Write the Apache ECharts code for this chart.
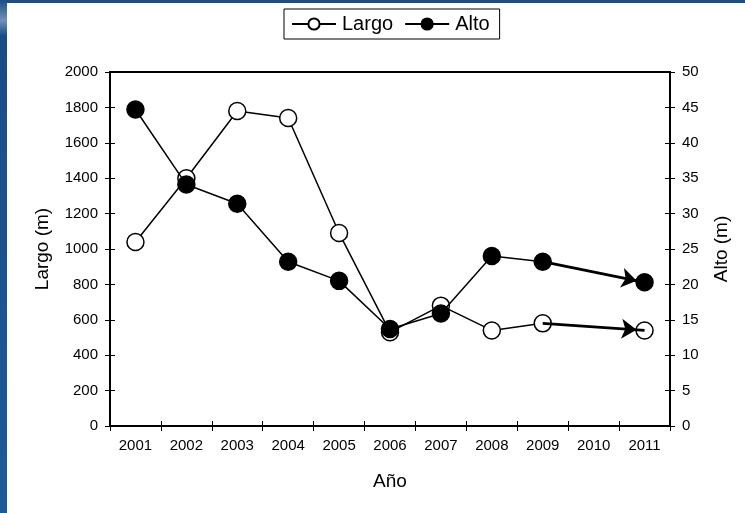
<!DOCTYPE html>
<html>
<head>
<meta charset="utf-8">
<script src="https://cdn.jsdelivr.net/npm/echarts@6/dist/echarts.min.js"></script>
<style>
html,body{margin:0;padding:0;background:#fff;}
#chart{width:745px;height:513px;}
</style>
</head>
<body>
<div id="chart"></div>
<script>
const years = ['2001','2002','2003','2004','2005','2006','2007','2008','2009','2010','2011'];
const largo = [1040, 1400, 1780, 1740, 1090, 530, 680, 540, 580, null, 540];
const alto  = [44.7, 34.1, 31.4, 23.2, 20.5, 13.7, 15.9, 24.0, 23.2, null, 20.3];
const largoTicks = {min: 0, max: 2000, interval: 200};
const altoTicks = {min: 0, max: 50, interval: 5};

const FONT = '"Liberation Sans", Arial, sans-serif';
const chart = echarts.init(document.getElementById('chart'), null, {renderer: 'canvas'});

function arrowLine(arr) {
  return {
    silent: true,
    symbol: ['none', 'arrow'],
    symbolSize: 15,
    symbolOffset: [0, [0, 8]],
    lineStyle: {color: '#000', width: 2.8, type: 'solid'},
    label: {show: false},
    emphasis: {disabled: true},
    animation: false,
    data: [[{coord: [years[8], arr[8]]}, {coord: [years[10], arr[10]]}]]
  };
}

const plainLabel = v => String(v);

const option = {
  animation: false,
  backgroundColor: '#fff',
  textStyle: {fontFamily: FONT, color: '#000'},
  graphic: [
    {type: 'rect', left: 0, top: 0, shape: {width: 745, height: 3}, style: {fill: '#1a4f8a'}, z: 100},
    {type: 'rect', left: 0, top: 0, shape: {width: 7, height: 513},
     style: {fill: new echarts.graphic.LinearGradient(0, 0, 0, 1, [
       {offset: 0, color: '#1a4c85'}, {offset: 0.04, color: '#6f92b8'}, {offset: 0.07, color: '#1a4c85'}, {offset: 1, color: '#1c5a9a'}])}, z: 100}
  ],
  legend: {
    data: ['Largo', 'Alto'],
    left: 284,
    top: 9,
    orient: 'horizontal',
    borderColor: '#000',
    borderWidth: 1,
    padding: [5, 10, 5, 7],
    itemWidth: 44,
    itemHeight: 14,
    itemGap: 11,
    textStyle: {fontFamily: FONT, fontSize: 20, color: '#000', padding: [0, 0, 0, 1]}
  },
  grid: {left: 110, right: 75, top: 72, bottom: 87, show: true, borderColor: '#000', borderWidth: 2, backgroundColor: 'transparent'},
  xAxis: [
    {
      type: 'category', data: years, boundaryGap: true,
      name: 'Año', nameLocation: 'middle', nameGap: 46,
      nameTextStyle: {fontFamily: FONT, fontSize: 19, color: '#000'},
      axisLine: {lineStyle: {color: '#000', width: 2}},
      axisTick: {show: true, length: 5, lineStyle: {color: '#000', width: 1}},
      axisLabel: {fontFamily: FONT, fontSize: 15, color: '#000', margin: 12, interval: 0},
      splitLine: {show: false}
    },
    {
      type: 'category', data: years, boundaryGap: true, position: 'bottom',
      axisLine: {show: false},
      axisTick: {show: true, inside: true, length: 5, lineStyle: {color: '#000', width: 1}},
      axisLabel: {show: false}, splitLine: {show: false}
    }
  ],
  yAxis: [
    {
      type: 'value', position: 'left', min: largoTicks.min, max: largoTicks.max, interval: largoTicks.interval,
      name: 'Largo (m)', nameLocation: 'middle', nameGap: 58, nameRotate: 90,
      nameTextStyle: {fontFamily: FONT, fontSize: 19, color: '#000'},
      axisLine: {show: true, lineStyle: {color: '#000', width: 2}},
      axisTick: {show: true, length: 5, lineStyle: {color: '#000', width: 1}},
      axisLabel: {fontFamily: FONT, fontSize: 15, color: '#000', margin: 12, formatter: plainLabel},
      splitLine: {show: false}
    },
    {
      type: 'value', position: 'right', min: altoTicks.min, max: altoTicks.max, interval: altoTicks.interval,
      name: 'Alto (m)', nameLocation: 'middle', nameGap: 42, nameRotate: 90,
      nameTextStyle: {fontFamily: FONT, fontSize: 19, color: '#000'},
      axisLine: {show: true, lineStyle: {color: '#000', width: 2}},
      axisTick: {show: true, length: 5, lineStyle: {color: '#000', width: 1}},
      axisLabel: {fontFamily: FONT, fontSize: 15, color: '#000', margin: 12, formatter: plainLabel},
      splitLine: {show: false}
    },
    {
      type: 'value', position: 'left', min: largoTicks.min, max: largoTicks.max, interval: largoTicks.interval,
      axisLine: {show: false},
      axisTick: {show: true, inside: true, length: 5, lineStyle: {color: '#000', width: 1}},
      axisLabel: {show: false}, splitLine: {show: false}
    },
    {
      type: 'value', position: 'right', min: altoTicks.min, max: altoTicks.max, interval: altoTicks.interval,
      axisLine: {show: false},
      axisTick: {show: true, inside: true, length: 5, lineStyle: {color: '#000', width: 1}},
      axisLabel: {show: false}, splitLine: {show: false}
    }
  ],
  series: [
    {
      name: 'Largo', type: 'line', xAxisIndex: 0, yAxisIndex: 0,
      data: largo, connectNulls: false,
      symbol: 'circle', symbolSize: 17, showAllSymbol: true,
      lineStyle: {color: '#000', width: 1.5},
      itemStyle: {color: '#fff', borderColor: '#000', borderWidth: 1.5},
      emphasis: {disabled: true},
      markLine: arrowLine(largo),
      z: 3
    },
    {
      name: 'Alto', type: 'line', xAxisIndex: 0, yAxisIndex: 1,
      data: alto, connectNulls: false,
      symbol: 'circle', symbolSize: 17, showAllSymbol: true,
      lineStyle: {color: '#000', width: 1.5},
      itemStyle: {color: '#000', borderColor: '#000', borderWidth: 1.5},
      emphasis: {disabled: true},
      markLine: arrowLine(alto),
      z: 4
    }
  ]
};
chart.setOption(option);
</script>
</body>
</html>
